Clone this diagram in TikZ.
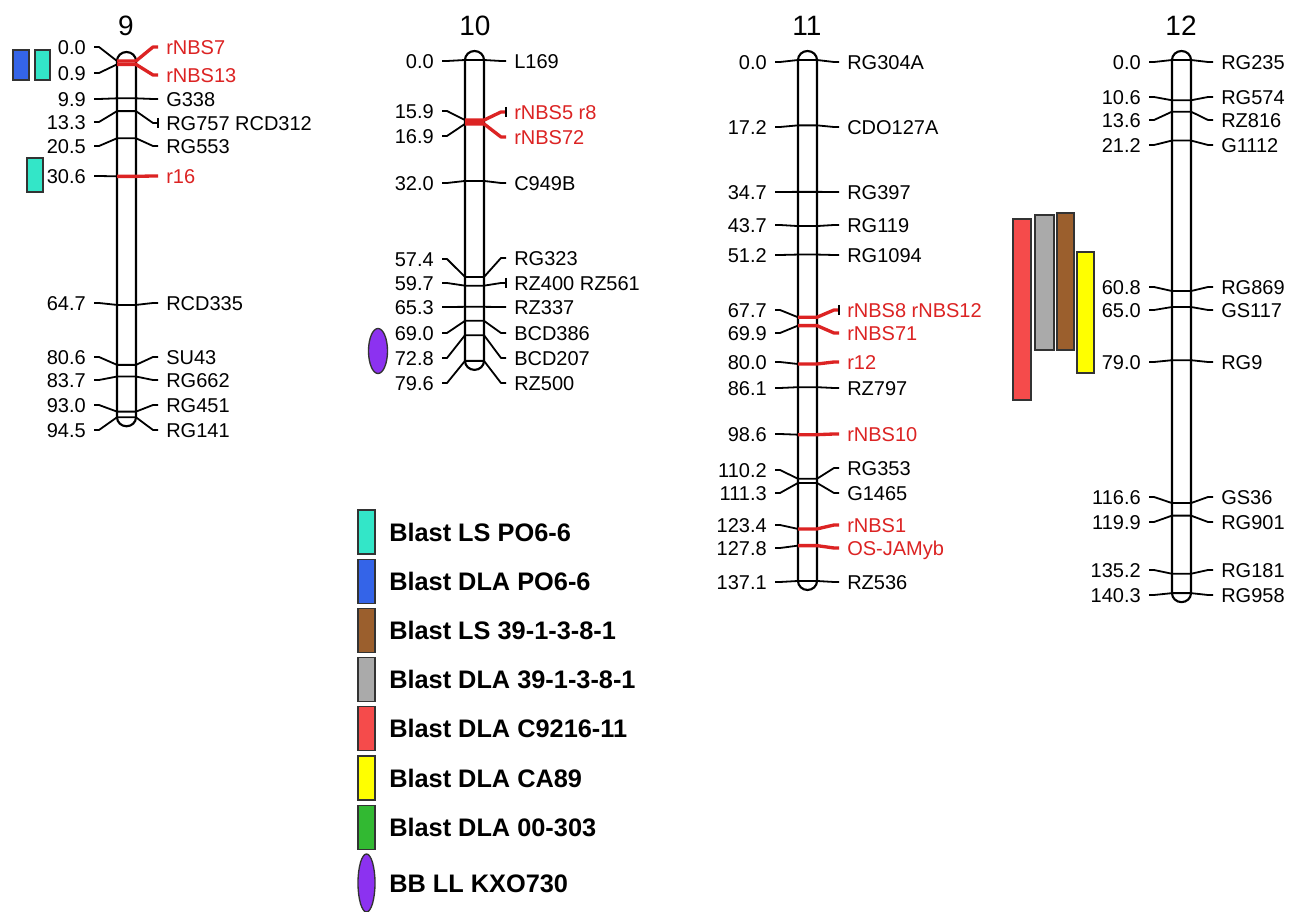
\documentclass[tikz,border=0pt]{standalone}
\usepackage{fontspec}
\setmainfont{Liberation Sans}
\usetikzlibrary{calc,shapes.geometric}
\definecolor{mred}{RGB}{220,35,35}
\definecolor{cyanL}{RGB}{51,230,200}
\definecolor{blueL}{RGB}{52,100,232}
\definecolor{brownL}{RGB}{155,95,45}
\definecolor{grayL}{RGB}{170,170,170}
\definecolor{redL}{RGB}{245,75,75}
\definecolor{yellowL}{RGB}{255,255,0}
\definecolor{greenL}{RGB}{50,185,50}
\definecolor{purpleL}{RGB}{140,50,240}
\tikzset{
 numlab/.style={anchor=east,inner sep=0pt,font=\fontsize{15pt}{18pt}\selectfont,text height=10.7pt,text depth=0pt},
 namelab/.style={anchor=west,inner sep=0pt,font=\fontsize{15pt}{18pt}\selectfont,text height=10.7pt,text depth=0pt},
 text-n/.style={text=black}, text-r/.style={text=mred},
 line-n/.style={draw=black,line width=1.35pt,line join=round},
 line-r/.style={draw=mred,line width=2.5pt,line join=round},
 conn/.style={draw=black,line width=1.35pt,line join=round},
 chrom/.style={draw=black,line width=1.6pt},
 qtl/.style={draw=black!80,line width=1pt},
 title/.style={font=\fontsize{21pt}{24pt}\selectfont,inner sep=0pt},
 legbox/.style={draw=black!80,line width=1pt,rectangle,inner sep=0pt,minimum width=12.75pt,minimum height=33pt},
 legell/.style={draw=black!80,line width=1pt,ellipse,inner sep=0pt,minimum width=12.75pt,minimum height=43.5pt},
 legtext/.style={anchor=west,inner sep=0pt,font=\fontsize{19pt}{22pt}\selectfont\bfseries,text height=13.6pt,text depth=0pt}
}
\newcommand{\drawchrom}[6]{%
 \pgfmathsetmacro\cbR{#2+19}%
 \pgfmathsetmacro\cyE{#3+#4*#5}%
 \draw[chrom] (#2,#3) -- (#2,\cyE) arc[start angle=180,end angle=0,x radius=9.5,y radius=9] -- (\cbR,#3) arc[start angle=0,end angle=-180,x radius=9.5,y radius=9] -- cycle;
 \foreach \cm/\ly/\ry/\nm/\st/\tk [count=\i] in {#6}{%
   \pgfmathsetmacro\my{#3+#4*\cm}
   \node[numlab] (l#1-\i) at (#2-31,\ly) {\cm};
   \node[namelab,text-\st] (r#1-\i) at (\cbR+30,\ry) {\nm};
   \draw[conn] ($(l#1-\i.east)+(8,0)$) -- ++(5,0) -- (#2,\my);
   \draw[line-\st] (#2,\my) -- (\cbR,\my) -- (\cbR+17,\ry) -- ($(r#1-\i.west)-(8,0)$);
   \ifnum\tk=1 \draw[conn] ($(r#1-\i.west)+(-8,-5)$) -- ($(r#1-\i.west)+(-8,5)$);\fi
 }%
}
\begin{document}
\begin{tikzpicture}[x=0.75pt,y=-0.75pt]
\useasboundingbox (0,0) rectangle (1297,912);
\fill[white] (0,0) rectangle (1297,912);

% titles
\node[title] (t9) at (126,26) {9};
\node[title] (t10) at (475,26) {10};
\node[title] (t11) at (807,26) {11};
\node[title] (t12) at (1181,26) {12};

% QTL bars
\draw[qtl,fill=blueL] (13,50) rectangle (29,80);
\draw[qtl,fill=cyanL] (35,50) rectangle (50,80);
\draw[qtl,fill=cyanL] (27,158) rectangle (43,192);
\draw[qtl,fill=purpleL] (378,351) ellipse[x radius=9.5,y radius=22.5];
\draw[qtl,fill=redL] (1013,219) rectangle (1031,400);
\draw[qtl,fill=grayL] (1035,215) rectangle (1054,350);
\draw[qtl,fill=brownL] (1057,213) rectangle (1074,350);
\draw[qtl,fill=yellowL] (1077,252) rectangle (1094,373);

% chromosome 9
\drawchrom{9}{117}{61}{3.77}{94.5}{0.0/47/47/rNBS7/r/0, 0.9/73/75/rNBS13/r/0, 9.9/99/99/G338/n/0, 13.3/122/123/{RG757 RCD312}/n/1, 20.5/146/146/RG553/n/0, 30.6/176/176/r16/r/0, 64.7/303/303/RCD335/n/0, 80.6/357/357/SU43/n/0, 83.7/380/380/RG662/n/0, 93.0/405/405/RG451/n/0, 94.5/430/430/RG141/n/0}

% chromosome 10
\drawchrom{10}{465}{60}{3.78}{79.6}{0.0/61/61/L169/n/0, 15.9/111/112/{rNBS5 r8}/r/1, 16.9/136/137/rNBS72/r/0, 32.0/183/183/C949B/n/0, 57.4/259/258/RG323/n/0, 59.7/283/283/{RZ400 RZ561}/n/1, 65.3/307/307/RZ337/n/0, 69.0/333/333/BCD386/n/0, 72.8/358/358/BCD207/n/0, 79.6/383/383/RZ500/n/0}

% chromosome 11
\drawchrom{11}{798}{60}{3.8}{137.1}{0.0/62/62/RG304A/n/0, 17.2/127/127/CDO127A/n/0, 34.7/192/192/RG397/n/0, 43.7/225/225/RG119/n/0, 51.2/255/255/RG1094/n/0, 67.7/310/310/{rNBS8 rNBS12}/r/1, 69.9/333/333/rNBS71/r/0, 80.0/362/362/r12/r/0, 86.1/388/388/RZ797/n/0, 98.6/434/434/rNBS10/r/0, 110.2/470/468/RG353/n/0, 111.3/493/493/G1465/n/0, 123.4/525/525/rNBS1/r/0, 127.8/548/548/OS-JAMyb/r/0, 137.1/582/582/RZ536/n/0}

% chromosome 12
\drawchrom{12}{1172}{60}{3.8}{140.3}{0.0/62/62/RG235/n/0, 10.6/97/97/RG574/n/0, 13.6/120/120/RZ816/n/0, 21.2/145/145/G1112/n/0, 60.8/287/287/RG869/n/0, 65.0/310/310/GS117/n/0, 79.0/362/362/RG9/n/0, 116.6/497/497/GS36/n/0, 119.9/522/522/RG901/n/0, 135.2/570/570/RG181/n/0, 140.3/595/595/RG958/n/0}

% legend
\foreach \c/\t [count=\i] in {cyanL/Blast LS PO6-6, blueL/Blast DLA PO6-6, brownL/Blast LS 39-1-3-8-1, grayL/Blast DLA 39-1-3-8-1, redL/Blast DLA C9216-11, yellowL/Blast DLA CA89, greenL/Blast DLA 00-303}{
  \pgfmathsetmacro\yt{532+49.2*(\i-1)}
  \node[legbox,fill=\c] (lb-\i) at (366.5,\yt) {};
  \node[legtext] (lt-\i) at (389,\yt) {\t};
}
\node[legell,fill=purpleL] (lb-8) at (366.5,883) {};
\node[legtext] (lt-8) at (389,883) {BB LL KXO730};
\end{tikzpicture}
\end{document}
